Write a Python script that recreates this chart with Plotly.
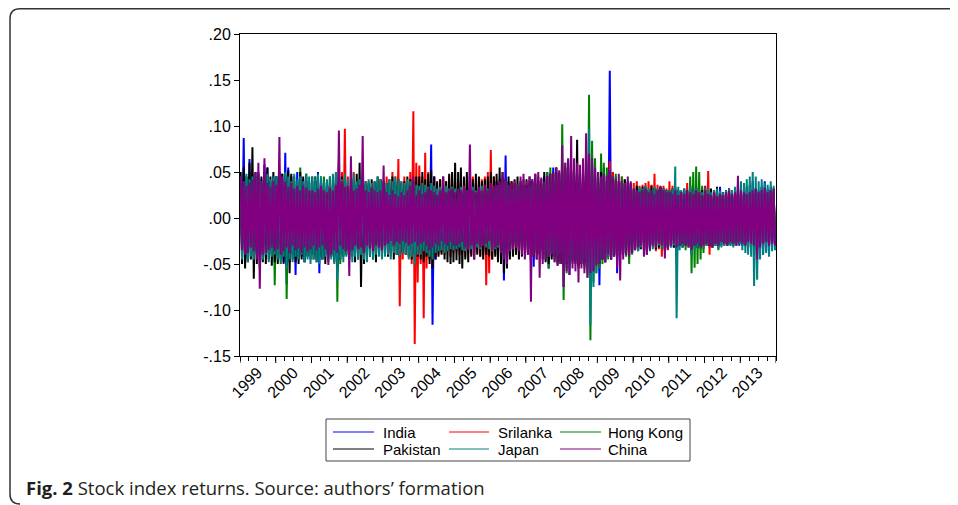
import pandas as pd
import plotly.graph_objects as go

# ---------------- data (monthly high / low daily returns) -------------
years = list(range(1999, 2014))
year_labels = [str(y) for y in years]
y_tick_vals = [-0.15, -0.10, -0.05, 0.0, 0.05, 0.10, 0.15, 0.20]
y_tick_text = ["-.15", "-.10", "-.05", ".00", ".05", ".10", ".15", ".20"]
series_names = ["India", "Srilanka", "Hong Kong", "Pakistan", "Japan", "China"]
series_colors = ["#0000FF", "#FF0000", "#008000", "#000000", "#008080", "#800080"]

india_up = [
    .045, .087, .040, .064, .048, .045, .050, .042, .058, .055, .040, .045,
    .045, .050, .048, .071, .055, .045, .040, .050, .045, .042, .040, .038,
    .040, .045, .050, .042, .038, .040, .035, .036, .040, .038, .035, .034,
    .032, .030, .034, .030, .032, .030, .028, .030, .032, .030, .028, .030,
    .030, .028, .032, .030, .035, .030, .032, .035, .034, .036, .032, .030,
    .035, .038, .030, .040, .080, .045, .035, .032, .030, .034, .032, .038,
    .032, .030, .034, .030, .032, .035, .030, .038, .034, .030, .036, .032,
    .036, .038, .040, .042, .045, .068, .040, .038, .035, .036, .034, .035,
    .036, .040, .042, .038, .040, .036, .045, .050, .048, .055, .050, .045,
    .060, .055, .063, .050, .045, .048, .050, .045, .055, .065, .060, .058,
    .050, .045, .055, .048, .160, .050, .045, .040, .038, .036, .040, .038,
    .030, .032, .028, .030, .034, .030, .028, .030, .032, .030, .028, .030,
    .028, .030, .032, .030, .028, .030, .028, .035, .030, .028, .030, .032,
    .035, .032, .030, .028, .030, .034, .028, .030, .032, .028, .030, .026,
    .028, .030, .026, .028, .030, .032, .030, .034, .040, .032, .030, .028,
]
india_dn = [
    -.040, -.048, -.045, -.042, -.040, -.038, -.045, -.040, -.042, -.038, -.040, -.036,
    -.040, -.045, -.050, -.072, -.048, -.040, -.062, -.045, -.042, -.048, -.040, -.038,
    -.040, -.045, -.060, -.045, -.040, -.038, -.042, -.040, -.060, -.040, -.036, -.034,
    -.032, -.034, -.030, -.032, -.035, -.030, -.034, -.032, -.030, -.028, -.030, -.032,
    -.030, -.032, -.034, -.030, -.028, -.030, -.032, -.030, -.028, -.035, -.030, -.032,
    -.036, -.032, -.030, -.034, -.116, -.045, -.035, -.030, -.032, -.030, -.034, -.030,
    -.034, -.030, -.032, -.036, -.032, -.030, -.034, -.030, -.032, -.036, -.040, -.032,
    -.035, -.032, -.036, -.038, -.068, -.050, -.040, -.036, -.034, -.032, -.035, -.034,
    -.038, -.045, -.053, -.036, -.038, -.035, -.040, -.055, -.040, -.045, -.050, -.048,
    -.075, -.055, -.062, -.048, -.045, -.052, -.045, -.048, -.055, -.065, -.058, -.050,
    -.073, -.045, -.048, -.040, -.045, -.042, -.060, -.040, -.038, -.036, -.040, -.038,
    -.032, -.034, -.030, -.028, -.035, -.030, -.028, -.030, -.032, -.030, -.034, -.032,
    -.030, -.032, -.030, -.028, -.030, -.028, -.030, -.040, -.032, -.030, -.034, -.030,
    -.030, -.032, -.028, -.030, -.032, -.028, -.030, -.028, -.030, -.026, -.028, -.030,
    -.030, -.028, -.032, -.030, -.028, -.032, -.034, -.040, -.036, -.030, -.028, -.030,
]

srilanka_up = [
    .025, .022, .028, .024, .026, .030, .025, .022, .028, .024, .025, .026,
    .026, .024, .028, .025, .022, .026, .030, .028, .024, .026, .025, .028,
    .030, .028, .035, .032, .030, .040, .035, .032, .045, .065, .050, .097,
    .045, .040, .050, .035, .040, .038, .036, .040, .035, .038, .040, .042,
    .040, .045, .038, .050, .045, .064, .040, .045, .038, .050, .116, .060,
    .057, .045, .071, .050, .040, .045, .038, .042, .036, .040, .045, .038,
    .035, .040, .038, .036, .042, .040, .045, .038, .040, .042, .045, .050,
    .074, .045, .040, .038, .042, .036, .035, .040, .038, .036, .040, .035,
    .035, .032, .038, .036, .040, .034, .036, .032, .035, .038, .034, .036,
    .036, .034, .040, .038, .036, .040, .038, .042, .040, .042, .038, .050,
    .038, .036, .040, .045, .062, .050, .042, .040, .045, .038, .036, .035,
    .038, .040, .035, .036, .038, .040, .036, .048, .036, .034, .035, .032,
    .040, .035, .032, .030, .028, .030, .038, .032, .030, .034, .030, .032,
    .034, .051, .030, .028, .030, .026, .028, .030, .026, .028, .030, .026,
    .025, .028, .026, .024, .028, .025, .026, .028, .024, .026, .025, .028,
]
srilanka_dn = [
    -.025, -.028, -.024, -.030, -.026, -.025, -.028, -.030, -.025, -.028, -.026, -.024,
    -.026, -.028, -.030, -.025, -.032, -.028, -.026, -.030, -.028, -.025, -.030, -.028,
    -.030, -.032, -.035, -.030, -.038, -.034, -.032, -.036, -.040, -.035, -.038, -.040,
    -.040, -.035, -.038, -.036, -.040, -.035, -.038, -.034, -.036, -.040, -.038, -.035,
    -.038, -.040, -.042, -.036, -.040, -.096, -.045, -.040, -.042, -.050, -.137, -.070,
    -.050, -.109, -.055, -.045, -.050, -.042, -.040, -.038, -.040, -.036, -.042, -.038,
    -.036, -.040, -.038, -.042, -.038, -.040, -.036, -.038, -.042, -.040, -.073, -.060,
    -.045, -.040, -.038, -.042, -.040, -.036, -.038, -.035, -.040, -.038, -.036, -.035,
    -.035, -.038, -.034, -.036, -.032, -.035, -.038, -.034, -.036, -.032, -.035, -.034,
    -.036, -.038, -.035, -.034, -.036, -.038, -.040, -.036, -.042, -.045, -.040, -.038,
    -.040, -.038, -.036, -.042, -.040, -.036, -.038, -.035, -.034, -.036, -.032, -.034,
    -.034, -.036, -.032, -.035, -.034, -.030, -.032, -.036, -.034, -.042, -.036, -.034,
    -.032, -.030, -.034, -.030, -.028, -.030, -.032, -.035, -.030, -.032, -.030, -.034,
    -.030, -.040, -.032, -.030, -.028, -.030, -.028, -.026, -.028, -.030, -.026, -.028,
    -.026, -.028, -.025, -.028, -.026, -.028, -.025, -.026, -.028, -.025, -.026, -.024,
]

hongkong_up = [
    .040, .035, .045, .050, .042, .045, .040, .038, .040, .042, .038, .040,
    .045, .050, .042, .048, .040, .045, .038, .042, .055, .040, .045, .038,
    .040, .045, .042, .038, .045, .040, .038, .042, .050, .045, .040, .042,
    .038, .035, .032, .036, .034, .030, .032, .035, .030, .032, .036, .030,
    .030, .032, .028, .030, .035, .032, .030, .028, .032, .030, .028, .030,
    .030, .032, .030, .028, .035, .030, .028, .032, .030, .028, .030, .032,
    .028, .026, .030, .028, .025, .030, .028, .026, .030, .028, .032, .026,
    .030, .028, .032, .030, .028, .035, .030, .028, .032, .030, .034, .032,
    .035, .038, .040, .036, .040, .038, .042, .050, .055, .048, .055, .050,
    .102, .060, .055, .050, .045, .048, .042, .050, .065, .134, .084, .065,
    .050, .070, .060, .055, .050, .045, .048, .040, .045, .042, .040, .038,
    .030, .028, .032, .030, .035, .030, .028, .032, .030, .034, .030, .028,
    .028, .030, .032, .028, .030, .028, .030, .045, .050, .056, .050, .035,
    .032, .030, .028, .026, .030, .028, .026, .030, .032, .028, .026, .030,
    .028, .030, .026, .028, .030, .032, .028, .030, .026, .028, .030, .026,
]
hongkong_dn = [
    -.040, -.038, -.045, -.040, -.042, -.038, -.040, -.045, -.040, -.038, -.040, -.073,
    -.045, -.050, -.042, -.088, -.045, -.040, -.042, -.038, -.040, -.045, -.042, -.040,
    -.040, -.042, -.045, -.040, -.038, -.042, -.040, -.045, -.091, -.050, -.042, -.040,
    -.036, -.034, -.038, -.035, -.032, -.034, -.036, -.030, -.034, -.032, -.030, -.034,
    -.032, -.030, -.028, -.032, -.030, -.028, -.030, -.032, -.028, -.030, -.032, -.028,
    -.030, -.032, -.035, -.045, -.032, -.030, -.028, -.030, -.032, -.028, -.030, -.028,
    -.026, -.028, -.030, -.026, -.028, -.025, -.028, -.030, -.026, -.028, -.026, -.025,
    -.028, -.030, -.032, -.030, -.035, -.032, -.030, -.028, -.030, -.032, -.030, -.028,
    -.036, -.045, -.040, -.038, -.040, -.036, -.045, -.055, -.042, -.048, -.052, -.050,
    -.089, -.060, -.055, -.050, -.048, -.052, -.050, -.055, -.065, -.133, -.070, -.060,
    -.055, -.050, -.048, -.045, -.042, -.040, -.045, -.040, -.038, -.042, -.050, -.040,
    -.032, -.035, -.030, -.032, -.040, -.034, -.030, -.032, -.030, -.034, -.036, -.032,
    -.030, -.032, -.034, -.030, -.032, -.035, -.030, -.060, -.054, -.050, -.045, -.038,
    -.030, -.028, -.032, -.030, -.035, -.030, -.028, -.030, -.026, -.028, -.030, -.026,
    -.028, -.030, -.026, -.028, -.030, -.035, -.030, -.028, -.026, -.030, -.028, -.026,
]

pakistan_up = [
    .050, .055, .045, .060, .077, .050, .048, .045, .050, .055, .045, .050,
    .045, .050, .048, .045, .052, .048, .045, .042, .050, .045, .048, .040,
    .045, .040, .042, .045, .038, .040, .045, .042, .050, .060, .045, .042,
    .040, .045, .042, .048, .060, .045, .040, .038, .042, .040, .045, .042,
    .040, .038, .042, .045, .040, .042, .038, .040, .045, .042, .040, .045,
    .045, .050, .042, .048, .052, .045, .040, .042, .045, .040, .048, .050,
    .060, .050, .055, .045, .050, .045, .042, .048, .045, .040, .042, .045,
    .050, .045, .048, .055, .050, .042, .045, .040, .042, .045, .040, .042,
    .042, .045, .040, .048, .045, .042, .050, .045, .048, .050, .055, .048,
    .050, .055, .060, .052, .050, .085, .048, .045, .055, .050, .045, .040,
    .045, .050, .042, .040, .045, .042, .040, .038, .040, .042, .038, .036,
    .032, .035, .030, .034, .032, .030, .035, .032, .030, .034, .032, .030,
    .030, .032, .034, .030, .028, .032, .030, .034, .030, .032, .028, .030,
    .030, .028, .032, .030, .034, .030, .028, .030, .032, .030, .028, .030,
    .032, .030, .034, .036, .040, .032, .030, .034, .032, .030, .034, .032,
]
pakistan_dn = [
    -.050, -.055, -.048, -.045, -.066, -.050, -.055, -.048, -.050, -.045, -.052, -.048,
    -.050, -.045, -.048, -.052, -.060, -.045, -.048, -.050, -.045, -.048, -.042, -.045,
    -.045, -.048, -.042, -.045, -.050, -.045, -.042, -.048, -.055, -.045, -.042, -.040,
    -.045, -.042, -.048, -.045, -.075, -.050, -.045, -.042, -.045, -.048, -.040, -.042,
    -.040, -.042, -.038, -.045, -.040, -.042, -.038, -.040, -.042, -.045, -.040, -.042,
    -.045, -.048, -.042, -.050, -.055, -.045, -.042, -.040, -.045, -.048, -.050, -.048,
    -.046, -.050, -.055, -.045, -.048, -.042, -.045, -.040, -.042, -.045, -.040, -.042,
    -.045, -.042, -.048, -.050, -.060, -.055, -.045, -.042, -.040, -.045, -.042, -.040,
    -.040, -.045, -.042, -.045, -.040, -.045, -.048, -.050, -.045, -.042, -.048, -.050,
    -.052, -.050, -.048, -.045, -.050, -.055, -.050, -.052, -.048, -.045, -.042, -.050,
    -.050, -.045, -.048, -.042, -.045, -.040, -.042, -.040, -.038, -.040, -.036, -.038,
    -.035, -.032, -.034, -.030, -.035, -.032, -.030, -.034, -.032, -.030, -.034, -.032,
    -.030, -.032, -.028, -.030, -.032, -.030, -.028, -.034, -.030, -.032, -.030, -.028,
    -.028, -.030, -.032, -.028, -.030, -.026, -.028, -.030, -.028, -.030, -.026, -.028,
    -.030, -.028, -.032, -.030, -.028, -.034, -.030, -.032, -.028, -.030, -.032, -.028,
]

japan_up = [
    .045, .040, .048, .042, .045, .050, .042, .040, .045, .048, .042, .045,
    .045, .048, .042, .050, .045, .040, .048, .042, .045, .040, .048, .045,
    .045, .042, .048, .045, .040, .042, .045, .048, .050, .045, .042, .048,
    .042, .045, .048, .040, .042, .045, .040, .042, .038, .040, .045, .042,
    .040, .038, .042, .040, .045, .042, .040, .038, .042, .040, .038, .036,
    .035, .038, .036, .034, .038, .035, .032, .034, .036, .035, .032, .034,
    .032, .030, .034, .032, .030, .032, .034, .030, .032, .035, .030, .032,
    .035, .032, .034, .036, .038, .040, .035, .032, .034, .036, .032, .034,
    .032, .034, .036, .035, .034, .032, .035, .038, .036, .035, .038, .036,
    .045, .050, .048, .045, .040, .042, .045, .040, .055, .097, .065, .055,
    .045, .040, .048, .045, .042, .040, .038, .036, .040, .038, .036, .035,
    .032, .030, .034, .032, .035, .032, .030, .034, .032, .030, .032, .030,
    .030, .032, .056, .034, .030, .032, .030, .035, .030, .032, .030, .028,
    .030, .032, .028, .030, .032, .030, .028, .030, .032, .030, .034, .036,
    .040, .038, .042, .045, .050, .045, .040, .042, .038, .036, .040, .035,
]
japan_dn = [
    -.045, -.040, -.048, -.042, -.045, -.040, -.042, -.045, -.040, -.048, -.042, -.040,
    -.045, -.048, -.042, -.055, -.045, -.048, -.042, -.045, -.040, -.048, -.045, -.050,
    -.045, -.048, -.050, -.045, -.042, -.048, -.045, -.050, -.068, -.045, -.048, -.042,
    -.045, -.048, -.042, -.045, -.040, -.045, -.048, -.042, -.045, -.040, -.042, -.045,
    -.042, -.040, -.045, -.038, -.040, -.042, -.038, -.040, -.045, -.042, -.051, -.040,
    -.040, -.036, -.038, -.042, -.045, -.038, -.036, -.035, -.038, -.036, -.034, -.035,
    -.034, -.032, -.035, -.036, -.032, -.034, -.030, -.032, -.034, -.030, -.032, -.034,
    -.036, -.034, -.032, -.038, -.042, -.045, -.036, -.034, -.032, -.035, -.034, -.032,
    -.034, -.045, -.036, -.035, -.034, -.036, -.038, -.042, -.038, -.036, -.040, -.038,
    -.045, -.048, -.050, -.045, -.042, -.045, -.048, -.045, -.060, -.116, -.075, -.060,
    -.050, -.045, -.048, -.042, -.040, -.038, -.040, -.036, -.040, -.038, -.036, -.035,
    -.034, -.036, -.032, -.035, -.040, -.036, -.034, -.032, -.030, -.032, -.030, -.032,
    -.032, -.030, -.109, -.035, -.032, -.030, -.032, -.040, -.034, -.032, -.030, -.032,
    -.030, -.028, -.032, -.030, -.034, -.032, -.030, -.028, -.030, -.032, -.030, -.028,
    -.035, -.038, -.040, -.042, -.074, -.067, -.045, -.040, -.038, -.042, -.036, -.035,
]

china_up = [
    .045, .040, .035, .038, .042, .050, .060, .040, .065, .038, .034, .040,
    .036, .088, .045, .040, .034, .038, .032, .035, .030, .036, .033, .030,
    .030, .028, .032, .035, .030, .028, .033, .030, .036, .095, .040, .034,
    .035, .067, .030, .032, .036, .089, .030, .028, .033, .030, .028, .030,
    .057, .028, .025, .030, .026, .024, .028, .025, .030, .035, .045, .025,
    .030, .026, .028, .032, .030, .028, .025, .030, .045, .028, .030, .032,
    .028, .032, .030, .035, .030, .080, .030, .028, .034, .030, .036, .030,
    .038, .035, .036, .040, .050, .042, .036, .038, .040, .035, .045, .048,
    .040, .045, .042, .048, .050, .044, .040, .046, .048, .050, .055, .052,
    .079, .060, .065, .089, .065, .060, .058, .065, .092, .070, .065, .055,
    .050, .045, .048, .046, .052, .045, .042, .048, .040, .038, .045, .040,
    .032, .030, .028, .030, .032, .028, .030, .026, .030, .035, .030, .028,
    .028, .026, .030, .025, .028, .026, .030, .028, .026, .030, .028, .025,
    .030, .026, .025, .028, .024, .026, .025, .028, .030, .026, .028, .046,
    .030, .028, .026, .028, .030, .032, .028, .030, .033, .028, .030, .032,
]
china_dn = [
    -.035, -.040, -.038, -.032, -.036, -.045, -.077, -.040, -.038, -.035, -.032, -.036,
    -.034, -.040, -.036, -.032, -.038, -.030, -.035, -.033, -.038, -.032, -.036, -.034,
    -.030, -.035, -.032, -.030, -.034, -.051, -.040, -.035, -.038, -.030, -.034, -.036,
    -.063, -.035, -.030, -.034, -.032, -.038, -.030, -.033, -.036, -.030, -.032, -.035,
    -.030, -.028, -.025, -.030, -.026, -.028, -.025, -.027, -.030, -.028, -.026, -.030,
    -.028, -.026, -.030, -.035, -.032, -.028, -.030, -.025, -.028, -.030, -.026, -.030,
    -.030, -.028, -.026, -.032, -.035, -.030, -.045, -.028, -.032, -.030, -.028, -.025,
    -.035, -.032, -.030, -.038, -.045, -.050, -.036, -.034, -.032, -.036, -.040, -.045,
    -.040, -.091, -.042, -.045, -.065, -.050, -.045, -.042, -.040, -.048, -.052, -.050,
    -.075, -.058, -.062, -.055, -.058, -.070, -.055, -.060, -.065, -.060, -.058, -.052,
    -.050, -.045, -.048, -.040, -.045, -.042, -.055, -.068, -.045, -.040, -.042, -.038,
    -.035, -.032, -.030, -.042, -.040, -.035, -.030, -.032, -.028, -.030, -.044, -.035,
    -.030, -.028, -.032, -.030, -.028, -.030, -.032, -.035, -.030, -.028, -.032, -.030,
    -.028, -.030, -.032, -.028, -.030, -.026, -.028, -.030, -.026, -.028, -.030, -.026,
    -.028, -.030, -.026, -.028, -.030, -.045, -.032, -.028, -.026, -.030, -.028, -.030,
]

series_up = [india_up, srilanka_up, hongkong_up, pakistan_up, japan_up, china_up]
series_dn = [india_dn, srilanka_dn, hongkong_dn, pakistan_dn, japan_dn, china_dn]

# ---------------- geometry (target page pixels; the page body adds an 8px offset) --------
OFF = 8
W, H = 958, 505
PL, PR, PT, PB = 240, 776, 34, 356          # plot area on the page
FL, FR, FT, FB = PL - OFF, PR - OFF, PT - OFF, PB - OFF   # plot area inside the figure


def px(x):
    """page x pixel -> paper coordinate"""
    return (x - PL) / (PR - PL)


def py(y):
    """page y pixel -> paper coordinate"""
    return (PB - y) / (PB - PT)


# month positions: high observation early in the month, low observation later in the month
month_starts = pd.date_range("1999-01-01", periods=len(china_up), freq="MS")
up_dates = month_starts + pd.Timedelta(days=7)
dn_dates = month_starts + pd.Timedelta(days=21)

fig = go.Figure()
for name, color, up, dn in zip(series_names, series_colors, series_up, series_dn):
    xs, ys = [], []
    for du, dd, vu, vd in zip(up_dates, dn_dates, up, dn):
        xs += [du, dd]
        ys += [vu, vd]
    fig.add_trace(go.Scatter(x=xs, y=ys, mode="lines", name=name,
                             line=dict(color=color, width=2), showlegend=False,
                             hoverinfo="skip"))

label_pos = [f"{y}-07-01" for y in years]
quarter_ticks = list(pd.date_range("1999-01-01", "2014-01-01", freq="QS"))
year_bounds = pd.date_range("1999-01-01", "2014-01-01", freq="YS")

AX_FONT = dict(family="Liberation Sans, Arial, sans-serif", size=16, color="#000")
LEG_FONT = dict(family="Liberation Sans, Arial, sans-serif", size=15, color="#000")

fig.update_layout(
    width=W, height=H,
    margin=dict(l=FL, r=W - FR, t=FT, b=H - FB),
    paper_bgcolor="white", plot_bgcolor="white",
    xaxis=dict(type="date", range=["1999-01-01", "2014-01-01"],
               tickmode="array", tickvals=label_pos, ticktext=year_labels,
               tickangle=-45, ticks="", showgrid=False, zeroline=False,
               showline=True, mirror=True, linecolor="black", linewidth=1,
               tickfont=AX_FONT,
               minor=dict(tickmode="array", tickvals=quarter_ticks, ticks="outside",
                          ticklen=4, tickcolor="black", tickwidth=1, showgrid=False)),
    yaxis=dict(range=[-0.15, 0.20], tickmode="array", tickvals=y_tick_vals,
               ticktext=y_tick_text, ticks="outside", ticklen=5, tickcolor="black",
               showgrid=False, zeroline=False, showline=True, mirror=True,
               linecolor="black", linewidth=1, tickfont=AX_FONT),
)

shapes = []
# long tick marks at year boundaries
for d in year_bounds:
    shapes.append(dict(type="line", xref="x", yref="paper", x0=d, x1=d,
                       y0=0, y1=-7 / (PB - PT), line=dict(color="black", width=1)))

# legend box
shapes.append(dict(type="rect", xref="paper", yref="paper",
                   x0=px(326), x1=px(690), y0=py(419), y1=py(461),
                   line=dict(color="#444", width=1), fillcolor="white"))
col_line_x = [(333, 374), (449, 489), (560, 601)]
col_text_x = [381, 496, 606]
row_y = [432, 449]
annotations = []
for i, (name, color) in enumerate(zip(series_names, series_colors)):
    r, c = divmod(i, 3)
    x0, x1 = col_line_x[c]
    shapes.append(dict(type="line", xref="paper", yref="paper",
                       x0=px(x0), x1=px(x1), y0=py(row_y[r]), y1=py(row_y[r]),
                       line=dict(color=color, width=1)))
    annotations.append(dict(xref="paper", yref="paper", x=px(col_text_x[c]),
                            y=py(row_y[r]), text=name, showarrow=False,
                            xanchor="left", yanchor="middle", font=LEG_FONT))

# outer figure frame (rounded top-left and bottom-left corners)
fx, ftop, fbot, rad = 10, 8.8, 504, 10
path = (f"M {px(W + 20)},{py(ftop)} L {px(fx + rad)},{py(ftop)} "
        f"Q {px(fx)},{py(ftop)} {px(fx)},{py(ftop + rad)} "
        f"L {px(fx)},{py(fbot - rad)} Q {px(fx)},{py(fbot)} {px(fx + rad)},{py(fbot)}")
shapes.append(dict(type="path", xref="paper", yref="paper", path=path,
                   line=dict(color="#333", width=1.5)))

annotations.append(dict(xref="paper", yref="paper", x=px(24), y=py(487),
                        text="<b>Fig. 2</b> Stock index returns. Source: authors\u2019 formation",
                        showarrow=False, xanchor="left", yanchor="middle",
                        font=dict(family="Open Sans, sans-serif", size=18.5, color="#231f20")))

fig.update_layout(shapes=shapes, annotations=annotations)
fig.write_html("out.html")
